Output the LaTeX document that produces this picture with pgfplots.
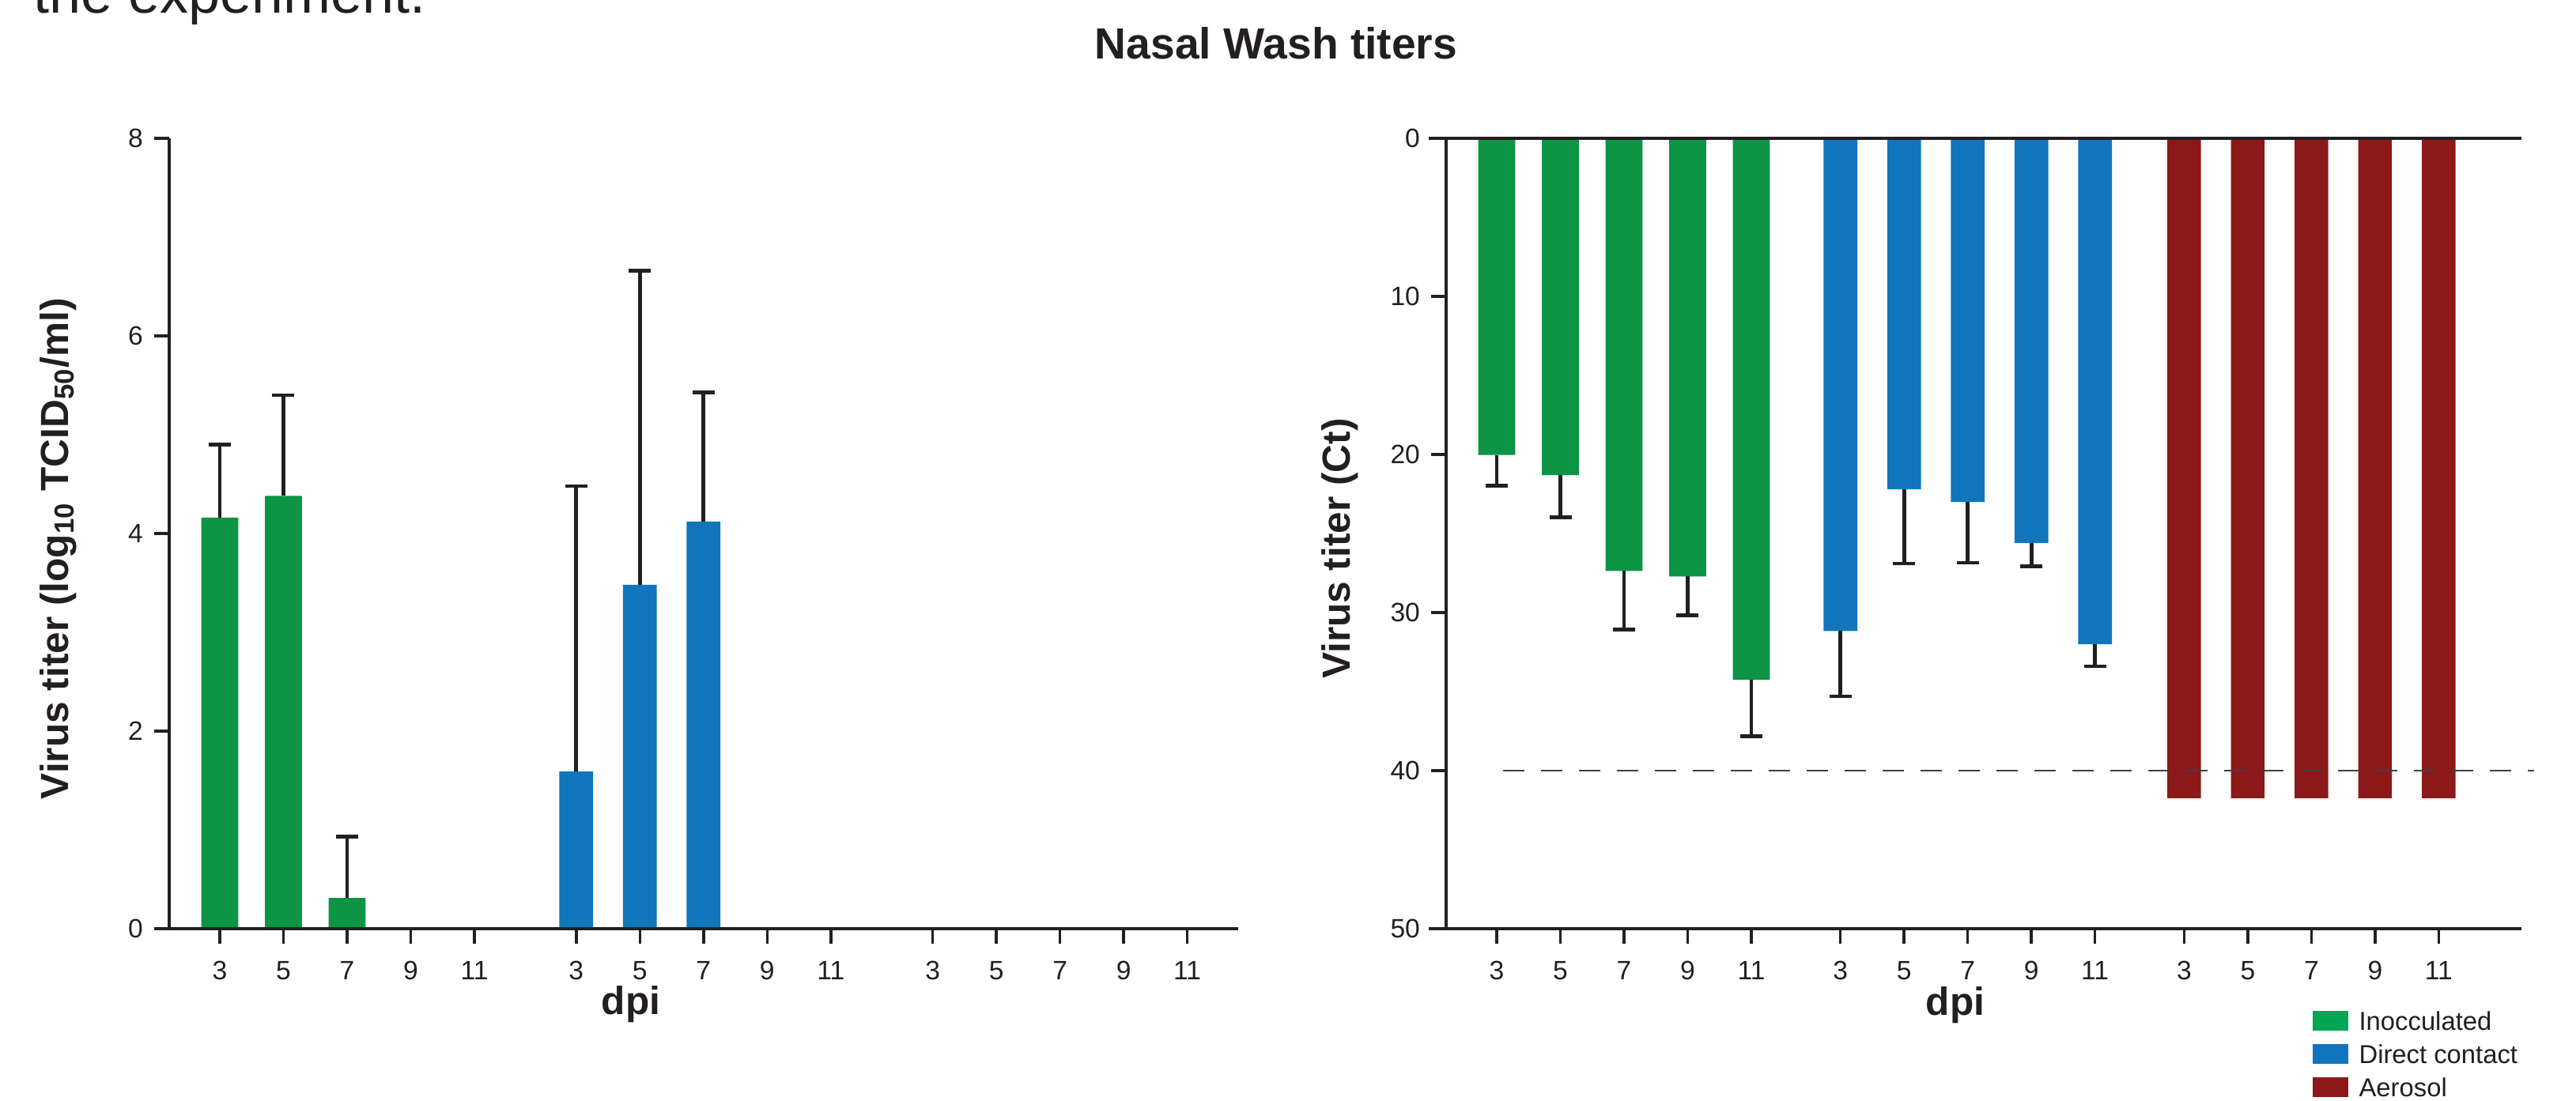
\documentclass[border=0pt]{standalone}
\usepackage{fontspec}
\setmainfont{Liberation Sans}
\usepackage{pgfplots}
\pgfplotsset{compat=1.18}
\definecolor{gbar}{RGB}{13,148,69}
\definecolor{bbar}{RGB}{16,117,188}
\definecolor{rbar}{RGB}{139,25,26}
\definecolor{glg}{RGB}{0,166,81}
\definecolor{ink}{RGB}{35,31,32}
\pgfplotsset{
  common/.style={
    scale only axis, height=250pt, clip=false,
    axis x line*=bottom, axis y line*=left,
    xtick pos=left, ytick pos=left, xticklabel pos=left, yticklabel pos=left,
    tick align=outside, major tick length=4.75pt,
    tick style={line width=0.9pt, draw=ink},
    axis line style={-, line width=1pt, draw=ink},
    tick label style={font=\fontsize{8.4}{10}\selectfont, text=ink},
    xticklabel style={yshift=-2pt},
    /pgf/number format/assume math mode=true,
    label style={font=\bfseries\fontsize{12.4}{14}\selectfont, text=ink},
    minor tick num=0,
  },
  errs/.style={draw=none, mark=none, forget plot,
    error bars/.cd, y dir=plus, y explicit,
    error bar style={line width=1.2pt, draw=ink, solid},
    error mark options={rotate=90, line width=1.2pt, mark size=3.5pt, draw=ink, solid}},
}
\begin{document}
\begin{tikzpicture}
\useasboundingbox (0,0) rectangle (814.5pt,348.25pt);
\node[anchor=base west, font=\fontsize{18}{20}\selectfont, text=ink, inner sep=0pt] at (10.5pt,344pt) {the experiment.};
\node[anchor=base, font=\bfseries\fontsize{13.8}{16}\selectfont, text=ink, inner sep=0pt] at (403.5pt,329.5pt) {Nasal Wash titers};

% ---------- left panel ----------
\begin{axis}[common,
  at={(53.5pt,54.5pt)}, anchor=south west, width=338pt,
  xmin=-0.795, xmax=16.0, ymin=0, ymax=8,
  xtick={0,1,2,3,4,5.6,6.6,7.6,8.6,9.6,11.2,12.2,13.2,14.2,15.2},
  xticklabels={3,5,7,9,11,3,5,7,9,11,3,5,7,9,11},
  ytick={0,2,4,6,8},
  xlabel={dpi},
  xlabel style={at={(axis description cs:0.432,-0.109)}, anchor=base, font=\bfseries\fontsize{12.4}{14}\selectfont},
  ylabel={Virus titer (log\textsubscript{10} TCID\textsubscript{50}/ml)},
  ylabel style={at={(axis description cs:-0.104,0.481)}, anchor=center},
]
\addplot[ybar, bar width=0.58, bar shift=0pt, fill=gbar, draw=none, forget plot]
  coordinates {(0,4.16) (1,4.38) (2,0.31) (3,0) (4,0)};
\addplot[ybar, bar width=0.53, bar shift=0pt, fill=bbar, draw=none, forget plot]
  coordinates {(5.6,1.59) (6.6,3.48) (7.6,4.12) (8.6,0) (9.6,0)};
\addplot[ybar, bar width=0.53, bar shift=0pt, fill=rbar, draw=none, forget plot]
  coordinates {(11.2,0) (12.2,0) (13.2,0) (14.2,0) (15.2,0)};
\addplot[errs] coordinates {(0,4.16) +- (0,0.74) (1,4.38) +- (0,1.02) (2,0.31) +- (0,0.62)};
\addplot[errs] coordinates {(5.6,1.59) +- (0,2.89) (6.6,3.48) +- (0,3.18) (7.6,4.12) +- (0,1.31)};
\draw[line width=1pt, ink] (axis cs:-1.03,0) -- (axis cs:16.0,0);
\end{axis}

% ---------- right panel ----------
\begin{axis}[common,
  at={(457.25pt,54.5pt)}, anchor=south west, width=340pt,
  xmin=-0.795, xmax=16.1, ymin=0, ymax=50, y dir=reverse,
  xtick={0,1,2,3,4,5.4,6.4,7.4,8.4,9.4,10.8,11.8,12.8,13.8,14.8},
  xticklabels={3,5,7,9,11,3,5,7,9,11,3,5,7,9,11},
  ytick={0,10,20,30,40,50},
  xlabel={dpi},
  xlabel style={at={(axis description cs:0.4735,-0.109)}, anchor=base, font=\bfseries\fontsize{12.4}{14}\selectfont},
  ylabel={Virus titer (Ct)},
  ylabel style={at={(axis description cs:-0.099,0.481)}, anchor=center},
  legend style={at={(axis description cs:0.805,-0.103)}, anchor=north west,
    draw=none, fill=none, inner sep=0pt, row sep=4.25pt, column sep=3.5pt,
    font=\fontsize{8.2}{9}\selectfont, text=ink,
    nodes={inner sep=0pt, text height=6.25pt, text depth=0pt}},
  legend cell align=left,
  legend image code/.code={\fill[#1] (0pt,-3.125pt) rectangle (11.25pt,3.125pt);},
]
\addplot[ybar, bar width=0.58, bar shift=0pt, fill=gbar, draw=none, forget plot]
  coordinates {(0,20.03) (1,21.3) (2,27.37) (3,27.72) (4,34.26)};
\addplot[ybar, bar width=0.53, bar shift=0pt, fill=bbar, draw=none, forget plot]
  coordinates {(5.4,31.17) (6.4,22.2) (7.4,23.0) (8.4,25.6) (9.4,32.0)};
\addplot[ybar, bar width=0.53, bar shift=0pt, fill=rbar, draw=none, forget plot]
  coordinates {(10.8,41.74) (11.8,41.74) (12.8,41.74) (13.8,41.74) (14.8,41.74)};
\addplot[errs] coordinates {(0,20.03) +- (0,1.95) (1,21.3) +- (0,2.66) (2,27.37) +- (0,3.7) (3,27.72) +- (0,2.45) (4,34.26) +- (0,3.58)};
\addplot[errs] coordinates {(5.4,31.17) +- (0,4.13) (6.4,22.2) +- (0,4.7) (7.4,23.0) +- (0,3.85) (8.4,25.6) +- (0,1.46) (9.4,32.0) +- (0,1.4)};
\addplot[forget plot, draw=black!75, line width=0.5pt, dash pattern=on 6.75pt off 5.25pt, mark=none]
  coordinates {(0.1,40) (16.3,40)};
\draw[line width=1pt, ink] (axis cs:-1.07,0) -- (axis cs:16.1,0);
\draw[line width=1pt, ink] (axis cs:-1.07,50) -- (axis cs:16.1,50);
\addlegendimage{fill=glg, draw=none}
\addlegendentry{Inocculated}
\addlegendimage{fill=bbar, draw=none}
\addlegendentry{Direct contact}
\addlegendimage{fill=rbar, draw=none}
\addlegendentry{Aerosol}
\end{axis}
\end{tikzpicture}
\end{document}
